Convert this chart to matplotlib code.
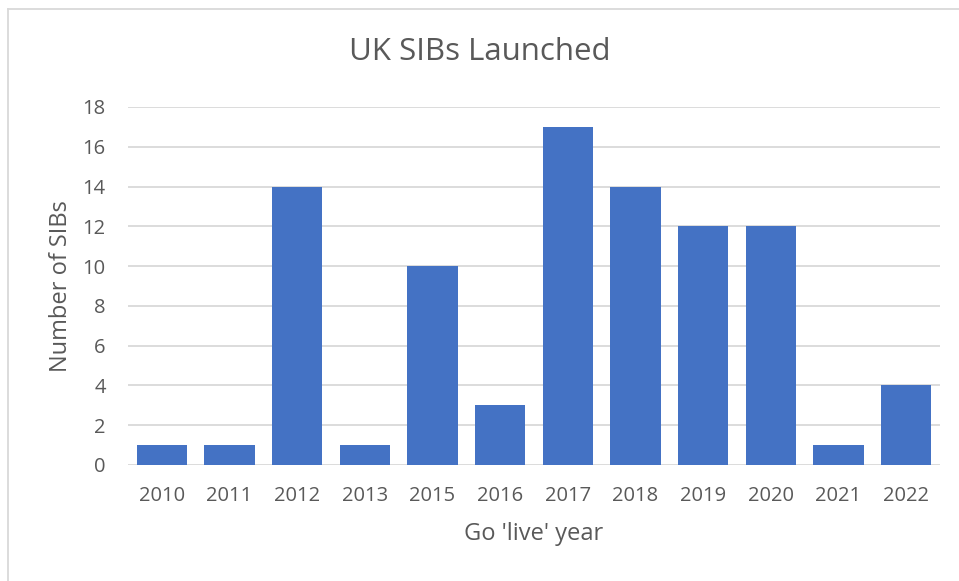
import matplotlib.pyplot as plt
from matplotlib.lines import Line2D

# Data
years = ['2010', '2011', '2012', '2013', '2015', '2016', '2017', '2018',
         '2019', '2020', '2021', '2022']
sibs_launched = [1, 1, 14, 1, 10, 3, 17, 14, 12, 12, 1, 4]
y_ticks = [0, 2, 4, 6, 8, 10, 12, 14, 16, 18]

plt.rcParams['font.family'] = ['Open Sans', 'DejaVu Sans']
text_grey = '#595959'

fig = plt.figure(figsize=(9.59, 5.81), dpi=100)
ax = fig.add_axes([128 / 959, 1 - 465 / 581, (940 - 128) / 959, (465 - 107) / 581])

x = range(len(years))
ax.bar(x, sibs_launched, width=0.74, color='#4472C4', zorder=3)

ax.set_xlim(-0.5, len(years) - 0.5)
ax.set_ylim(0, 18)
ax.set_yticks(y_ticks)
ax.set_xticks(list(x))
ax.set_xticklabels(years)
ax.yaxis.grid(True, color='#d9d9d9', linewidth=1.3, zorder=0)
ax.set_axisbelow(True)
for side in ['top', 'right', 'left', 'bottom']:
    ax.spines[side].set_visible(False)
ax.tick_params(axis='both', length=0, labelsize=14.5, colors=text_grey)
ax.tick_params(axis='x', pad=15)
ax.tick_params(axis='y', pad=16)

ax.set_ylabel('Number of SIBs', fontsize=17, color=text_grey, labelpad=7)
ax.set_xlabel("Go 'live' year", fontsize=17, color=text_grey, labelpad=12)
fig.text(0.5, 1 - 52 / 581, 'UK SIBs Launched', ha='center', va='center',
         fontsize=22.5, color=text_grey)

# Chart frame (top and left edges visible in the original)
fig.add_artist(Line2D([8 / 959, 1.0], [1 - 9 / 581, 1 - 9 / 581],
                      transform=fig.transFigure, color='#d9d9d9', linewidth=1.3))
fig.add_artist(Line2D([8 / 959, 8 / 959], [0.0, 1 - 9 / 581],
                      transform=fig.transFigure, color='#d9d9d9', linewidth=1.3))

fig.savefig('out.png', dpi=100, facecolor='white')
